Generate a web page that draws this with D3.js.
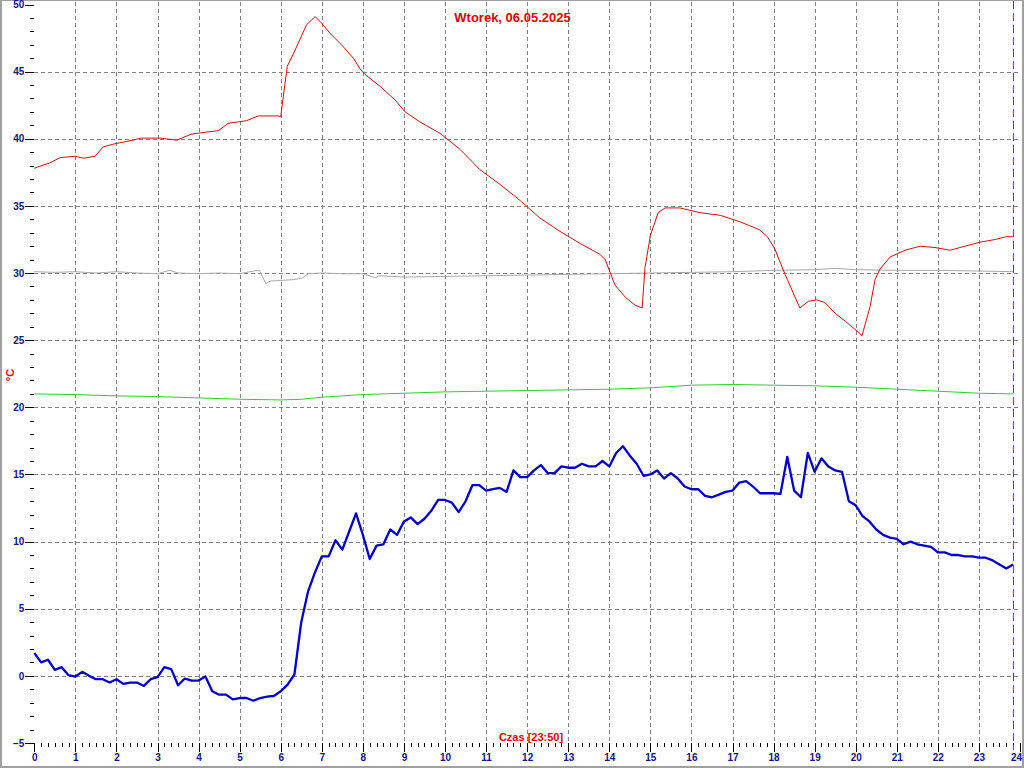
<!DOCTYPE html>
<html>
<head>
<meta charset="utf-8">
<script src="https://cdn.jsdelivr.net/npm/d3@7"></script>
<style>
  html, body { margin: 0; padding: 0; background: #fff; }
  svg { display: block; }
  text { font-family: "Liberation Sans", Arial, sans-serif; }
</style>
</head>
<body>
<svg id="chart" width="1024" height="768"></svg>
<script>
// ---- data ----
const titleText = "Wtorek, 06.05.2025";
const xAxisTitle = "Czas [23:50]";
const yAxisTitle = "°C";
const xMajorTicks = d3.range(0, 25, 1);
const yMajorTicks = [-5, 0, 5, 10, 15, 20, 25, 30, 35, 40, 45, 50];
const currentHour = 23 + 50 / 60;

// outdoor temperature, one value every 10 minutes from 00:00 to 23:50
const blueTemps = [
  1.7, 1.0, 1.2, 0.45, 0.65, 0.05, -0.05, 0.3, 0.0, -0.25, -0.25, -0.5,
  -0.25, -0.6, -0.5, -0.5, -0.75, -0.25, -0.1, 0.65, 0.5, -0.7, -0.2, -0.35,
  -0.35, -0.05, -1.15, -1.4, -1.4, -1.75, -1.65, -1.65, -1.85, -1.65, -1.55, -1.5,
  -1.15, -0.65, 0.1, 4.0, 6.3, 7.7, 8.9, 8.9, 10.1, 9.4, 10.75, 12.1,
  10.5, 8.7, 9.7, 9.8, 10.9, 10.5, 11.5, 11.8, 11.3, 11.7, 12.3, 13.1,
  13.1, 12.9, 12.2, 13.0, 14.2, 14.2, 13.8, 13.9, 14.0, 13.7, 15.3, 14.8,
  14.8, 15.3, 15.7, 15.1, 15.1, 15.6, 15.5, 15.5, 15.8, 15.6, 15.6, 16.0,
  15.6, 16.6, 17.1, 16.4, 15.8, 14.9, 15.0, 15.3, 14.7, 15.1, 14.7, 14.1,
  13.9, 13.9, 13.4, 13.3, 13.5, 13.7, 13.8, 14.4, 14.5, 14.1, 13.6, 13.6,
  13.6, 13.55, 16.3, 13.8, 13.3, 16.6, 15.2, 16.2, 15.6, 15.3, 15.2, 13.0,
  12.7, 11.9, 11.5, 10.9, 10.5, 10.3, 10.2, 9.8, 10.0, 9.8, 9.7, 9.6,
  9.2, 9.2, 9.0, 9.0, 8.9, 8.9, 8.8, 8.8, 8.6, 8.3, 8.0, 8.3
];

const redHours = [0, 0.22, 0.38, 0.63, 1.0, 1.2, 1.48, 1.68, 1.92, 2.25, 2.61, 3.06, 3.47, 3.83,
  4.2, 4.48, 4.72, 5.17, 5.45, 5.94, 6.0, 6.16, 6.35, 6.63, 6.84, 7.0, 7.2, 7.48, 7.77, 7.93,
  8.05, 8.42, 8.78, 9.03, 9.39, 9.88, 10.37, 10.85, 11.34, 11.83, 12.31, 12.8, 13.29, 13.77,
  13.9, 14.14, 14.39, 14.63, 14.8, 14.87, 15.0, 15.19, 15.36, 15.72, 16.2, 16.7, 17.2, 17.67,
  17.85, 18.03, 18.28, 18.64, 18.85, 19.05, 19.25, 19.5, 19.75, 20.1, 20.15, 20.35, 20.47,
  20.59, 20.84, 21.2, 21.57, 21.93, 22.3, 22.66, 23.03, 23.4, 23.65, 23.83];
const redTemps = [37.8, 38.05, 38.2, 38.6, 38.7, 38.55, 38.7, 39.4, 39.6, 39.8, 40.05, 40.05, 39.9, 40.35,
  40.5, 40.6, 41.15, 41.35, 41.7, 41.7, 41.65, 45.4, 46.6, 48.5, 49.1, 48.6, 47.85, 47.0, 46.0, 45.2,
  44.8, 43.9, 42.9, 42.0, 41.25, 40.4, 39.2, 37.7, 36.6, 35.4, 34.1, 33.1, 32.2, 31.4,
  31.0, 29.1, 28.2, 27.6, 27.4, 30.4, 32.8, 34.5, 34.85, 34.85, 34.5, 34.3, 33.8, 33.2,
  32.7, 31.8, 29.9, 27.4, 27.9, 28.0, 27.8, 27.0, 26.4, 25.5, 25.3, 27.5, 29.5,
  30.3, 31.2, 31.7, 32.0, 31.9, 31.7, 32.0, 32.3, 32.5, 32.7, 32.7];

const grayHours = [0, 0.5, 1.0, 1.5, 2.0, 2.5, 3.0, 3.3, 3.5, 4.0, 4.5, 5.0, 5.43, 5.48, 5.64, 5.74,
  6.27, 6.51, 6.67, 7.0, 7.5, 8.0, 8.3, 8.4, 9.0, 10, 11, 12, 13, 14, 15, 16, 17, 18, 19, 19.5,
  20, 21, 22, 23, 23.83];
const grayTemps = [30.1, 30.05, 30.1, 30.0, 30.1, 30.0, 29.95, 30.2, 30.0, 29.95, 30.0, 29.95, 30.2, 30.2,
  29.2, 29.4, 29.5, 29.6, 29.95, 30.0, 29.95, 29.95, 29.65, 29.8, 29.7, 29.75, 29.8, 29.85, 29.9,
  29.95, 30.0, 30.05, 30.1, 30.2, 30.25, 30.35, 30.25, 30.2, 30.2, 30.15, 30.1];

const greenHours = [0, 1, 2, 3, 4, 5, 6, 6.5, 7, 8, 9, 10, 11, 12, 13, 14, 15, 15.5, 16, 17, 18, 19,
  20, 21, 22, 23, 23.83];
const greenTemps = [21.0, 20.95, 20.85, 20.8, 20.7, 20.6, 20.55, 20.6, 20.75, 20.95, 21.05, 21.15, 21.2,
  21.25, 21.3, 21.35, 21.45, 21.55, 21.65, 21.7, 21.65, 21.6, 21.5, 21.35, 21.2, 21.05, 21.0];

// ---- chart ----
const svg = d3.select("#chart");
const x = d3.scaleLinear().domain([0, 24]).range([34.3, 1020]);
const y = d3.scaleLinear().domain([-5, 50]).range([743, 4.5]);

const labelColor = "#14147e";

// frame
svg.append("line").attr("x1", 1).attr("x2", 1).attr("y1", 0).attr("y2", 768)
  .attr("stroke", "#a0a0a0").attr("stroke-width", 2);
svg.append("line").attr("x1", 0).attr("x2", 1024).attr("y1", 0.5).attr("y2", 0.5)
  .attr("stroke", "#a0a0a0").attr("stroke-width", 1);
svg.append("line").attr("x1", 1023).attr("x2", 1023).attr("y1", 0).attr("y2", 768)
  .attr("stroke", "#a0a0a0").attr("stroke-width", 2);
svg.append("line").attr("x1", 0).attr("x2", 1024).attr("y1", 767).attr("y2", 767)
  .attr("stroke", "#a0a0a0").attr("stroke-width", 2);

// grid
const grid = svg.append("g").attr("shape-rendering", "crispEdges");
grid.selectAll("line.v").data(xMajorTicks.filter(h => h > 0 && h < 24)).join("line")
  .attr("class", "v")
  .attr("x1", d => Math.round(x(d)) + 0.5).attr("x2", d => Math.round(x(d)) + 0.5)
  .attr("y1", 2).attr("y2", y(-5))
  .attr("stroke", "#808080").attr("stroke-dasharray", "4,3");
grid.selectAll("line.h").data(yMajorTicks.filter(v => v > -5 && v < 50)).join("line")
  .attr("class", "h")
  .attr("x1", x(0)).attr("x2", 1021)
  .attr("y1", d => Math.round(y(d)) + 0.5).attr("y2", d => Math.round(y(d)) + 0.5)
  .attr("stroke", "#808080").attr("stroke-dasharray", "4,3");

// y axis
const yMinor = d3.axisLeft(y).tickValues(d3.range(-5, 51, 1).filter(v => v % 5 !== 0))
  .tickSize(4).tickFormat("");
const yMajor = d3.axisLeft(y).tickValues(yMajorTicks).tickSize(9).tickPadding(1);
[yMinor, yMajor].forEach(ax => {
  const g = svg.append("g").attr("transform", "translate(34.3,0)").call(ax);
  g.select(".domain").remove();
  g.selectAll("line").attr("stroke", "#000").attr("shape-rendering", "crispEdges");
  g.selectAll("text").attr("fill", labelColor).attr("font-size", 10).attr("font-weight", "bold")
    .attr("font-family", "'Liberation Sans', Arial, sans-serif");
});

// x axis
const xMinor = d3.axisBottom(x).tickValues(d3.range(0, 144).filter(i => i % 6 !== 0).map(i => i / 6))
  .tickSize(4).tickFormat("");
const xMajor = d3.axisBottom(x).tickValues(xMajorTicks).tickSize(9).tickPadding(2).tickFormat(d3.format("d"));
[xMinor, xMajor].forEach(ax => {
  const g = svg.append("g").attr("transform", "translate(0,743)").call(ax);
  g.select(".domain").remove();
  g.selectAll("line").attr("stroke", "#000").attr("shape-rendering", "crispEdges");
  g.selectAll("text").attr("fill", labelColor).attr("font-size", 10).attr("font-weight", "bold")
    .attr("font-family", "'Liberation Sans', Arial, sans-serif")
    .attr("dx", d => d === 24 ? -4 : 0);
});

// series
const lineXY = d3.line().x(d => x(d[0])).y(d => y(d[1]));
const zip = (hs, vs) => hs.map((h, i) => [h, vs[i]]);

svg.append("path").datum(zip(grayHours, grayTemps)).attr("d", lineXY)
  .attr("fill", "none").attr("stroke", "#a8a8a8").attr("stroke-width", 1);
svg.append("path").datum(zip(greenHours, greenTemps)).attr("d", lineXY)
  .attr("fill", "none").attr("stroke", "#33cc33").attr("stroke-width", 1);
svg.append("path").datum(zip(redHours, redTemps)).attr("d", lineXY)
  .attr("fill", "none").attr("stroke", "#cc1111").attr("stroke-width", 1);
svg.append("path").datum(blueTemps.map((v, i) => [i / 6, v])).attr("d", lineXY)
  .attr("fill", "none").attr("stroke", "#0000c8").attr("stroke-width", 2.3)
  .attr("stroke-linejoin", "round");

// current time marker
svg.append("line")
  .attr("x1", Math.round(x(currentHour)) + 0.5).attr("x2", Math.round(x(currentHour)) + 0.5)
  .attr("y1", 1).attr("y2", 750)
  .attr("stroke", "#008000").attr("stroke-width", 1).attr("stroke-dasharray", "8,4")
  .attr("shape-rendering", "crispEdges");

// titles
svg.append("text").attr("x", 512.5).attr("y", 22).attr("text-anchor", "middle")
  .attr("fill", "#e00000").attr("font-size", 13).attr("font-weight", "bold").text(titleText);
svg.append("text").attr("x", 531).attr("y", 741).attr("text-anchor", "middle")
  .attr("fill", "#e00000").attr("font-size", 11).attr("font-weight", "bold").text(xAxisTitle);
svg.append("text").attr("transform", "translate(14,375) rotate(-90)").attr("text-anchor", "middle")
  .attr("fill", "#e00000").attr("font-size", 11).attr("font-weight", "bold").text(yAxisTitle);
</script>
</body>
</html>
